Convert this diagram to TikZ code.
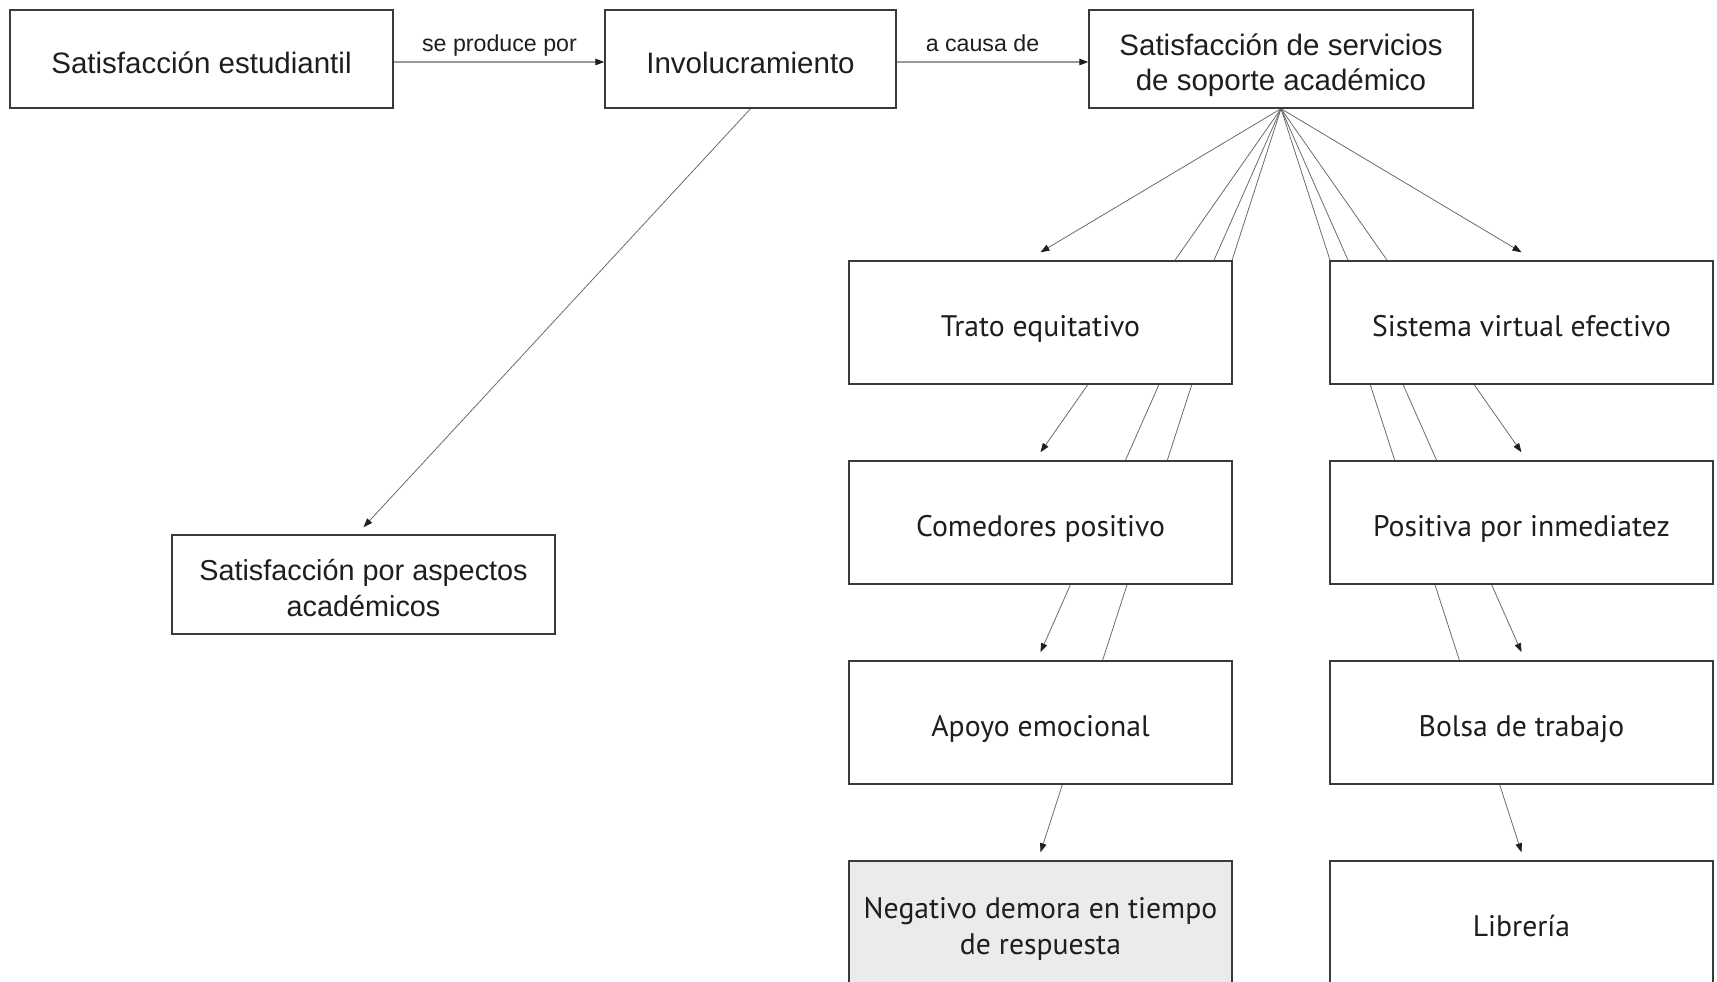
\documentclass[tikz,border=0pt]{standalone}
\usepackage{fontspec}
\setmainfont{Liberation Sans}
\newfontfamily\humfont{PT Sans}
\usetikzlibrary{arrows.meta,backgrounds}

\definecolor{ink}{HTML}{1E1E1E}
\definecolor{edge}{HTML}{3A3A3A}
\definecolor{wire}{HTML}{6A6A6A}
\definecolor{softwire}{HTML}{9A9A9A}
\definecolor{shade}{HTML}{EBEBEB}

% box caption: centred lines, set a little below the geometric middle
\newcommand\boxtext[1]{\raisebox{-0.14cm}[\height][\depth]{%
  \begin{tabular}{@{}c@{}}#1\end{tabular}}}

\tikzset{
  box/.style={draw=edge, line width=0.85pt, fill=white, text=ink, align=center,
    inner sep=0pt, font=\fontsize{16.8}{20}\selectfont},
  topbox/.style={box, minimum height=1.96cm},
  colbox/.style={box, minimum width=7.66cm, minimum height=2.46cm,
    font=\humfont\fontsize{16.9}{20}\selectfont},
  tip/.style={-{Triangle[length=0.18cm,width=0.13cm,color=ink]}},
  link/.style={tip, draw=softwire, line width=0.7pt},
  fan/.style={tip, draw=wire, line width=0.45pt},
  tag/.style={anchor=base, text=ink, font=\fontsize{13.2}{15}\selectfont, inner sep=0pt},
}

\begin{document}
\begin{tikzpicture}[x=0.02cm, y=-0.02cm]
  \useasboundingbox (0,0) rectangle (1717,982);

  % top row
  \node[topbox, minimum width=7.66cm] (est) at (201.5,59) {\boxtext{Satisfacción estudiantil}};
  \node[topbox, minimum width=5.82cm] (inv) at (750.5,59) {\boxtext{Involucramiento}};
  \node[topbox, minimum width=7.68cm] (sop) at (1281,59)
    {\boxtext{Satisfacción de servicios\\de soporte académico}};

  % academic aspects
  \node[box, minimum width=7.66cm, minimum height=1.98cm, font=\fontsize{16.4}{20}\selectfont]
    (aca) at (363.5,584.5) {\boxtext{Satisfacción por aspectos\\académicos}};

  % left column of support services
  \node[colbox] (l1) at (1040.5,322.5) {\boxtext{Trato equitativo}};
  \node[colbox] (l2) at (1040.5,522.5) {\boxtext{Comedores positivo}};
  \node[colbox] (l3) at (1040.5,722.5) {\boxtext{Apoyo emocional}};
  \node[colbox, fill=shade] (l4) at (1040.5,922.5)
    {\boxtext{Negativo demora en tiempo\\de respuesta}};

  % right column of support services
  \node[colbox] (r1) at (1521.5,322.5) {\boxtext{Sistema virtual efectivo}};
  \node[colbox] (r2) at (1521.5,522.5) {\boxtext{Positiva por inmediatez}};
  \node[colbox] (r3) at (1521.5,722.5) {\boxtext{Bolsa de trabajo}};
  \node[colbox] (r4) at (1521.5,922.5) {\boxtext{Librería}};

  % relation labels
  \node[tag] (t1) at (499.5,52) {se produce por};
  \node[tag] (t2) at (982.5,52) {a causa de};

  \draw[link] ([yshift=-0.06cm]est.east) -- ([yshift=-0.06cm]inv.west);
  \draw[link] ([yshift=-0.06cm]inv.east) -- ([yshift=-0.06cm]sop.west);

  % connectors run behind the boxes
  \begin{pgfonlayer}{background}
    \draw[fan] (inv.south) -- ([yshift=0.14cm]aca.north);
    \foreach \b in {l1,l2,l3,l4,r1,r2,r3,r4}
      \draw[fan] (sop.south) -- ([yshift=0.16cm]\b.north);
  \end{pgfonlayer}
\end{tikzpicture}
\end{document}
